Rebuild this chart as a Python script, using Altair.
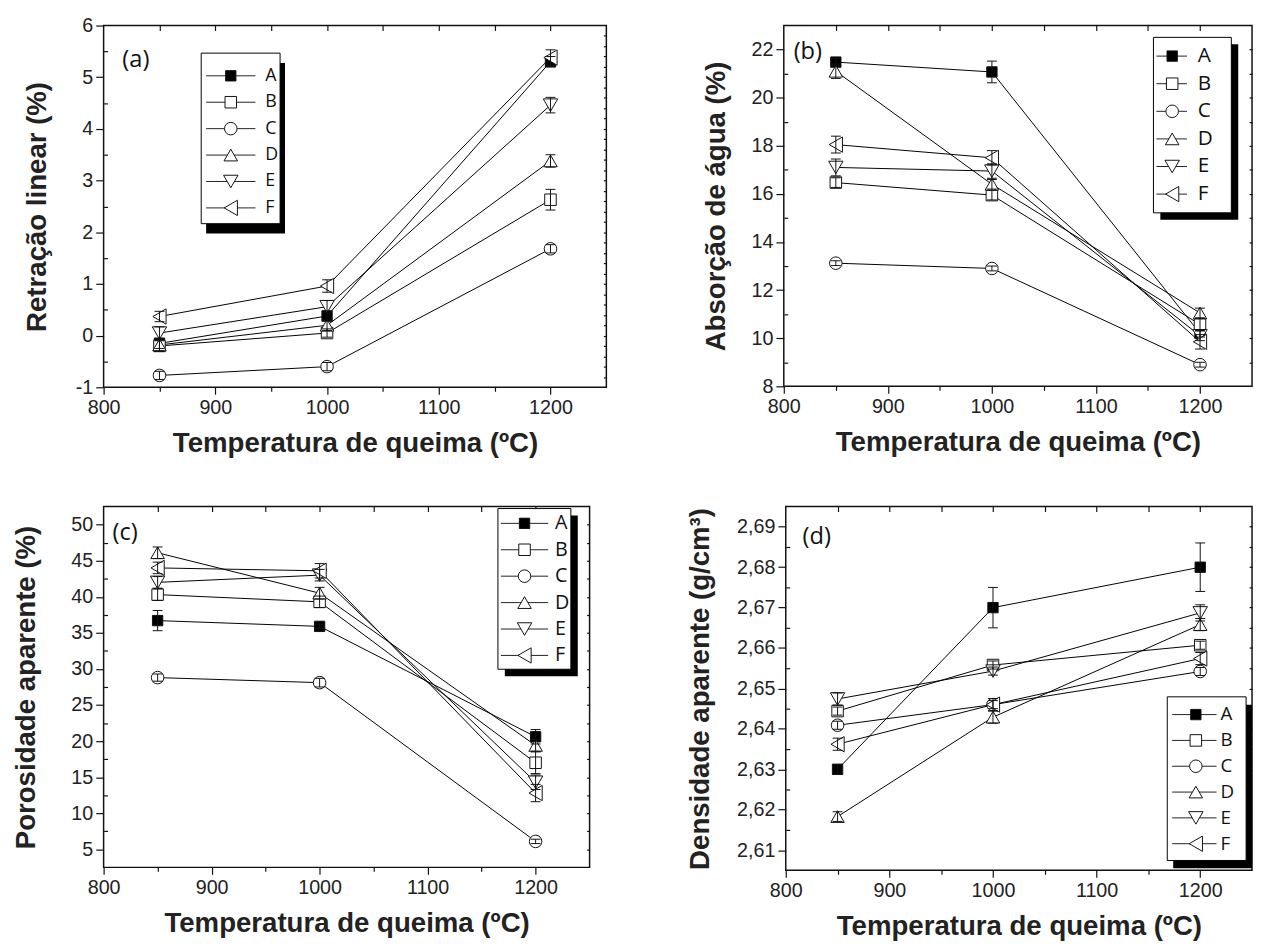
import altair as alt
import pandas as pd

temps = [850, 1000, 1200]
series = ["A", "B", "C", "D", "E", "F"]
shapes = ["square", "square", "circle", "triangle-up", "triangle-down", "triangle-left"]
fills = ["black", "white", "white", "white", "white", "white"]
sizes = [110, 240, 220, 420, 420, 420]

# (a) Retração linear (%)
ret_A = [-0.15, 0.38, 5.30]
ret_B = [-0.20, 0.05, 2.63]
ret_C = [-0.77, -0.60, 1.68]
ret_D = [-0.18, 0.20, 3.38]
ret_E = [0.05, 0.56, 4.46]
ret_F = [0.37, 0.96, 5.38]
ret_A_err = [0.10, 0.10, 0.10]
ret_B_err = [0.10, 0.08, 0.20]
ret_C_err = [0.08, 0.08, 0.08]
ret_D_err = [0.12, 0.10, 0.12]
ret_E_err = [0.12, 0.12, 0.15]
ret_F_err = [0.10, 0.12, 0.15]

# (b) Absorção de água (%)
abs_A = [21.48, 21.07, 10.20]
abs_B = [16.47, 15.95, 10.57]
abs_C = [13.12, 12.90, 8.90]
abs_D = [21.10, 16.40, 11.05]
abs_E = [17.10, 16.95, 10.10]
abs_F = [18.05, 17.50, 9.85]
abs_A_err = [0.15, 0.45, 0.15]
abs_B_err = [0.20, 0.20, 0.25]
abs_C_err = [0.10, 0.10, 0.10]
abs_D_err = [0.30, 0.20, 0.20]
abs_E_err = [0.35, 0.30, 0.20]
abs_F_err = [0.35, 0.30, 0.30]

# (c) Porosidade aparente (%)
por_A = [36.7, 35.9, 20.6]
por_B = [40.3, 39.3, 17.0]
por_C = [28.8, 28.1, 6.1]
por_D = [46.1, 40.5, 19.4]
por_E = [42.0, 43.0, 14.3]
por_F = [44.0, 43.6, 12.8]
por_A_err = [1.4, 0.3, 1.0]
por_B_err = [0.8, 0.8, 1.5]
por_C_err = [0.5, 0.6, 0.3]
por_D_err = [0.8, 0.8, 0.8]
por_E_err = [0.8, 0.8, 1.0]
por_F_err = [0.8, 1.0, 1.2]

# (d) Densidade aparente (g/cm3)
den_A = [2.6300, 2.6700, 2.6800]
den_B = [2.6444, 2.6558, 2.6607]
den_C = [2.6409, 2.6460, 2.6542]
den_D = [2.6183, 2.6429, 2.6658]
den_E = [2.6474, 2.6543, 2.6687]
den_F = [2.6362, 2.6460, 2.6574]
den_A_err = [0.0012, 0.0050, 0.0060]
den_B_err = [0.0010, 0.0010, 0.0010]
den_C_err = [0.0010, 0.0010, 0.0010]
den_D_err = [0.0012, 0.0015, 0.0015]
den_E_err = [0.0015, 0.0010, 0.0020]
den_F_err = [0.0015, 0.0015, 0.0015]

x_major = [800, 900, 1000, 1100, 1200]
x_minor = [850, 950, 1050, 1150]
x_top = [850, 900, 950, 1000, 1050, 1100, 1150, 1200]

LABEL_FONT = "Liberation Sans"
TAG_FONT = "Open Sans"


def frange(a, b, step, nd=4):
    out = []
    v = a
    while v <= b + step * 1e-6:
        out.append(round(v, nd))
        v += step
    return out


def make_df(vals, errs):
    rows = []
    for s, v, e in zip(series, vals, errs):
        for t, vv, ee in zip(temps, v, e):
            rows.append({"series": s, "temp": t, "val": vv, "lo": vv - ee, "hi": vv + ee})
    return pd.DataFrame(rows)


def panel(df, ydom, ymajor, yminor, yright, ytitle, titlex, tag, tagxy, leg,
          width, height, label_expr="'' + datum.value", spacer=None):
    xs = alt.Scale(domain=[800, 1250], nice=False, zero=False)
    ys = alt.Scale(domain=ydom, nice=False, zero=False)
    shp = alt.Shape("series:N", scale=alt.Scale(domain=series, range=shapes), legend=None)
    fil = alt.Fill("series:N", scale=alt.Scale(domain=series, range=fills), legend=None)
    siz = alt.Size("series:N", scale=alt.Scale(domain=series, range=sizes), legend=None)

    x_main = alt.Axis(values=x_major, orient="bottom", tickSize=7, labelPadding=4,
                      labelFlush=False, labelOverlap=False, labelExpr="'' + datum.value",
                      title="Temperatura de queima (ºC)", titleX=width / 2, titleY=57,
                      titleAlign="center", titleBaseline="middle")
    y_main = alt.Axis(values=ymajor, orient="left", tickSize=8, labelPadding=3,
                      labelOverlap=False, labelExpr=label_expr, minExtent=0,
                      title=ytitle, titleX=titlex, titleY=height / 2, titleAngle=270,
                      titleAlign="center", titleBaseline="middle")
    x_min = alt.Axis(values=x_minor, orient="bottom", tickSize=4, labels=False, title=None,
                     minExtent=0)
    y_min = alt.Axis(values=yminor, orient="left", tickSize=4, offset=-4, labels=False,
                     title=None, minExtent=0)
    x_topax = alt.Axis(values=x_top, orient="top", tickSize=5, offset=-5, labels=False,
                       title=None, minExtent=0)
    y_right = alt.Axis(values=yright, orient="right", tickSize=3, offset=-3, labels=False,
                       title=None, minExtent=0)

    base = alt.Chart(df)
    lines = base.mark_line(color="black", strokeWidth=1).encode(
        x=alt.X("temp:Q", scale=xs, axis=x_main),
        y=alt.Y("val:Q", scale=ys, axis=y_main),
        detail="series:N", order="temp:Q")
    points = base.mark_point(opacity=1, stroke="#111", strokeWidth=1).encode(
        x=alt.X("temp:Q", scale=xs, axis=x_min),
        y=alt.Y("val:Q", scale=ys, axis=y_min),
        shape=shp, fill=fil, size=siz)
    errs = base.mark_rule(color="#111", strokeWidth=1).encode(
        x=alt.X("temp:Q", scale=xs, axis=x_topax),
        y=alt.Y("lo:Q", scale=ys, axis=y_right),
        y2="hi:Q")
    cap_lo = base.mark_rule(color="#111", strokeWidth=1, xOffset=-5, x2Offset=5).encode(
        x=alt.X("temp:Q", scale=xs, axis=None), x2="temp:Q",
        y=alt.Y("lo:Q", scale=ys, axis=None))
    cap_hi = base.mark_rule(color="#111", strokeWidth=1, xOffset=-5, x2Offset=5).encode(
        x=alt.X("temp:Q", scale=xs, axis=None), x2="temp:Q",
        y=alt.Y("hi:Q", scale=ys, axis=None))

    one = alt.Chart(pd.DataFrame({"k": [0]}))
    tag_text = one.mark_text(text=tag, align="left", baseline="middle", fontSize=24,
                             font=TAG_FONT, color="#111").encode(
        x=alt.value(tagxy[0]), y=alt.value(tagxy[1]))

    bx0, by0, bx1, by1 = leg["box"]
    dx, dy = leg["shadow"]
    shadow = one.mark_rect(fill="black").encode(
        x=alt.value(bx0 + dx), x2=alt.value(bx1 + dx), y=alt.value(by0 + dy), y2=alt.value(by1 + dy))
    box = one.mark_rect(fill="white", stroke="black", strokeWidth=1).encode(
        x=alt.value(bx0), x2=alt.value(bx1), y=alt.value(by0), y2=alt.value(by1))
    ldf = alt.Chart(pd.DataFrame({"series": series}))
    ly = alt.Y("series:N", scale=alt.Scale(type="point", domain=series,
                                            range=list(leg["rows"]), padding=0), axis=None)
    stubs = ldf.mark_rule(color="#222", strokeWidth=1).encode(
        x=alt.value(leg["stub"][0]), x2=alt.value(leg["stub"][1]), y=ly)
    lmarks = ldf.mark_point(opacity=1, stroke="#111", strokeWidth=1).encode(
        x=alt.value(leg["mx"]), y=ly, shape=shp, fill=fil, size=siz)
    ltext = ldf.mark_text(align="left", baseline="middle", fontSize=leg["fs"],
                          font=TAG_FONT, color="#111").encode(
        x=alt.value(leg["tx"]), y=ly, text="series:N")

    layers = [lines, points, errs, cap_lo, cap_hi, tag_text, shadow, box, stubs, lmarks, ltext]
    if spacer is not None:
        sp = one.mark_rule(color="white", strokeWidth=0.5).encode(
            x=alt.value(spacer), x2=alt.value(spacer),
            y=alt.value(height / 2), y2=alt.value(height / 2 + 1))
        layers.append(sp)
    return alt.layer(*layers).resolve_scale(
        x="independent", y="independent").resolve_axis(
        x="independent", y="independent").properties(width=width, height=height)


df_a = make_df([ret_A, ret_B, ret_C, ret_D, ret_E, ret_F],
               [ret_A_err, ret_B_err, ret_C_err, ret_D_err, ret_E_err, ret_F_err])
df_b = make_df([abs_A, abs_B, abs_C, abs_D, abs_E, abs_F],
               [abs_A_err, abs_B_err, abs_C_err, abs_D_err, abs_E_err, abs_F_err])
df_c = make_df([por_A, por_B, por_C, por_D, por_E, por_F],
               [por_A_err, por_B_err, por_C_err, por_D_err, por_E_err, por_F_err])
df_d = make_df([den_A, den_B, den_C, den_D, den_E, den_F],
               [den_A_err, den_B_err, den_C_err, den_D_err, den_E_err, den_F_err])

pa = panel(df_a, [-1, 6], frange(-1, 6, 1), frange(-0.5, 5.5, 1), frange(-0.8, 5.8, 0.2),
           "Retração linear (%)", -67, "(a)", (19, 35),
           dict(box=(99, 28, 179, 201), shadow=(5, 10), rows=(51, 185), stub=(104, 154),
                mx=129, tx=164, fs=18),
           510, 367)
pb = panel(df_b, [8, 23], frange(8, 22, 2), frange(9, 21, 2), frange(9, 22, 1),
           "Absorção de água (%)", -68, "(b)", (10, 27),
           dict(box=(375, 12, 454, 190), shadow=(7, 7), rows=(31, 171), stub=(378, 409),
                mx=394, tx=420, fs=21),
           475, 366, spacer=-98)
pc = panel(df_c, [2.5, 52.5], frange(5, 50, 5), frange(7.5, 47.5, 5), frange(5, 50, 2.5),
           "Porosidade aparente (%)", -78, "(c)", (9, 27),
           dict(box=(400, 2, 474, 165), shadow=(7, 7), rows=(17, 151), stub=(403, 451),
                mx=427, tx=458, fs=20),
           493, 366)
pd_ = panel(df_d, [2.605, 2.695], frange(2.61, 2.69, 0.01), frange(2.615, 2.685, 0.01),
            frange(2.61, 2.69, 0.005),
            "Densidade aparente (g/cm³)", -86, "(d)", (17, 31),
            dict(box=(387, 193, 467, 359), shadow=(6, 8), rows=(211, 342), stub=(392, 437),
                 mx=416, tx=441, fs=19),
            473, 369, label_expr="replace(format(datum.value, '.2f'), '.', ',')")

chart = alt.concat(
    pa, pb, pc, pd_, columns=2, align="none", bounds="full",
    spacing={"row": 47, "column": 79},
).properties(
    padding={"left": 4, "top": 0, "right": 0, "bottom": 0},
    background="white",
).configure_view(
    stroke="#111", strokeWidth=1.5
).configure_axis(
    grid=False, domain=False,
    tickColor="#111", tickWidth=1.2,
    labelFont=LABEL_FONT, labelFontSize=20, labelColor="#222",
    titleFont=LABEL_FONT, titleFontSize=28, titleFontWeight="bold", titleColor="#222",
)

chart.save("out.html", embed_options={"renderer": "svg", "actions": False})
